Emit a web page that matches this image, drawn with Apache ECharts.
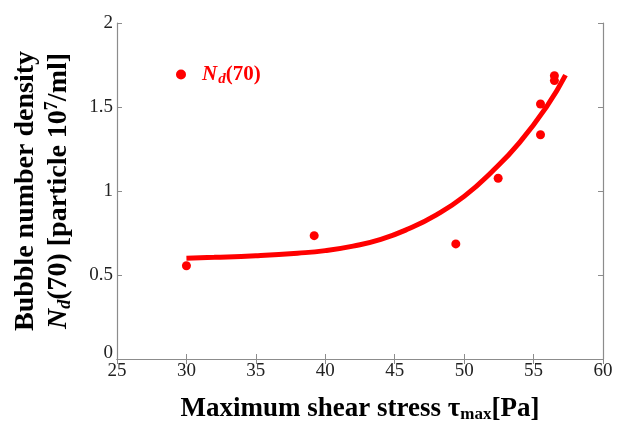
<!DOCTYPE html>
<html>
<head>
<meta charset="utf-8">
<script src="https://cdn.jsdelivr.net/npm/echarts@6/dist/echarts.min.js"></script>
<style>html,body{margin:0;padding:0;background:#fff;}#c{width:620px;height:428px;}</style>
</head>
<body>
<div id="c"></div>
<script>
// Measured points N_d(70)
const shearStress = [30.0, 39.2, 49.4, 52.45, 55.5, 55.5, 56.5, 56.5];
const bubbleDensity = [0.555, 0.734, 0.685, 1.076, 1.335, 1.518, 1.657, 1.686];
// Fitted curve
const curveX = [30, 32, 35, 38, 40, 42, 44, 46, 48, 50, 52, 54, 56, 57.3];
const curveY = [0.600, 0.605, 0.615, 0.630, 0.645, 0.672, 0.712, 0.775, 0.858, 0.968, 1.115, 1.290, 1.510, 1.690];
const xTicks = [25, 30, 35, 40, 45, 50, 55, 60];
const yTicks = [0, 0.5, 1, 1.5, 2];

const FONT = '"Liberation Serif", "Times New Roman", serif';
const RED = '#ff0000';
const AXIS = '#8c8c8c';

const chart = echarts.init(document.getElementById('c'), null, {renderer: 'canvas'});

const boldStyle = {fontFamily: FONT, fontWeight: 'bold', fontSize: 28, color: '#000', lineHeight: 33};
const boldItalic = Object.assign({}, boldStyle, {fontStyle: 'italic'});
const subStyle = {fontFamily: FONT, fontWeight: 'bold', fontStyle: 'italic', fontSize: 18, color: '#000', lineHeight: 33, padding: [14, 0, 0, 0]};
const supStyle = {fontFamily: FONT, fontWeight: 'bold', fontSize: 18, color: '#000', lineHeight: 33, padding: [0, 0, 12, 0]};

function pairs(xs, ys) { return xs.map((x, i) => [x, ys[i]]); }

const axisCommon = {
  axisLine: {show: true, lineStyle: {color: AXIS, width: 1.2}},
  axisTick: {show: true, inside: true, length: 5, lineStyle: {color: AXIS}},
  splitLine: {show: false}
};

chart.setOption({
  animation: false,
  backgroundColor: '#fff',
  grid: {left: 117, right: 17, top: 23, bottom: 69, containLabel: false, outerBoundsMode: 'none'},
  legend: {
    show: true,
    data: ['Nd(70)'],
    left: 171, top: 57,
    icon: 'circle', itemWidth: 10, itemHeight: 10,
    formatter: function () { return '{n|N}{d|d}{p|(70)}'; },
    textStyle: {
      color: RED,
      rich: {
        n: {fontFamily: FONT, fontWeight: 'bold', fontStyle: 'italic', fontSize: 21, color: RED, padding: [0, 0, 0, 11], lineHeight: 24},
        d: {fontFamily: FONT, fontStyle: 'italic', fontWeight: 'bold', fontSize: 15, color: RED, padding: [10, 0, 0, 1], lineHeight: 24},
        p: {fontFamily: FONT, fontWeight: 'bold', fontSize: 21, color: RED, lineHeight: 24}
      }
    }
  },
  xAxis: [
    Object.assign({}, axisCommon, {
      type: 'value', min: 25, max: 60, interval: 5, position: 'bottom',
      axisLabel: {fontFamily: FONT, fontSize: 19, color: '#222', margin: 3,
        formatter: v => xTicks.includes(v) ? String(v) : ''},
      name: '{b|Maximum shear stress τ}{s|max}{b|[Pa]}',
      nameLocation: 'middle', nameGap: 34,
      nameTextStyle: {
        rich: {
          b: {fontFamily: FONT, fontWeight: 'bold', fontSize: 27, color: '#000', lineHeight: 32},
          s: {fontFamily: FONT, fontWeight: 'bold', fontSize: 17, color: '#000', lineHeight: 32, padding: [12, 0, 0, 0]}
        }
      }
    }),
    Object.assign({}, axisCommon, {
      type: 'value', min: 25, max: 60, interval: 5, position: 'top',
      axisLabel: {show: false}
    })
  ],
  yAxis: [
    Object.assign({}, axisCommon, {
      type: 'value', min: 0, max: 2, interval: 0.5, position: 'left',
      axisLabel: {fontFamily: FONT, fontSize: 19, color: '#222', margin: 4,
        formatter: v => yTicks.includes(v) ? (v === 0 ? '{z|0}' : String(v)) : '',
        rich: {z: {fontFamily: FONT, fontSize: 19, color: '#222', padding: [0, 0, 12, 0]}}},
      name: '{b|Bubble number density}\n{bi|N}{sub|d}{b|(70) [particle 10}{sup|7}{b|/ml]}',
      nameLocation: 'middle', nameGap: 42, nameRotate: 90,
      nameTextStyle: {
        rich: {b: boldStyle, bi: boldItalic, sub: subStyle, sup: supStyle}
      }
    }),
    Object.assign({}, axisCommon, {
      type: 'value', min: 0, max: 2, interval: 0.5, position: 'right',
      axisLabel: {show: false}
    })
  ],
  series: [
    {
      name: 'fit', type: 'line', smooth: true, showSymbol: false,
      data: pairs(curveX, curveY),
      lineStyle: {color: RED, width: 5},
      itemStyle: {color: RED}, z: 2
    },
    {
      name: 'Nd(70)', type: 'scatter', symbol: 'circle', symbolSize: 9,
      data: pairs(shearStress, bubbleDensity),
      itemStyle: {color: RED, opacity: 1}, z: 3
    }
  ]
});
</script>
</body>
</html>
